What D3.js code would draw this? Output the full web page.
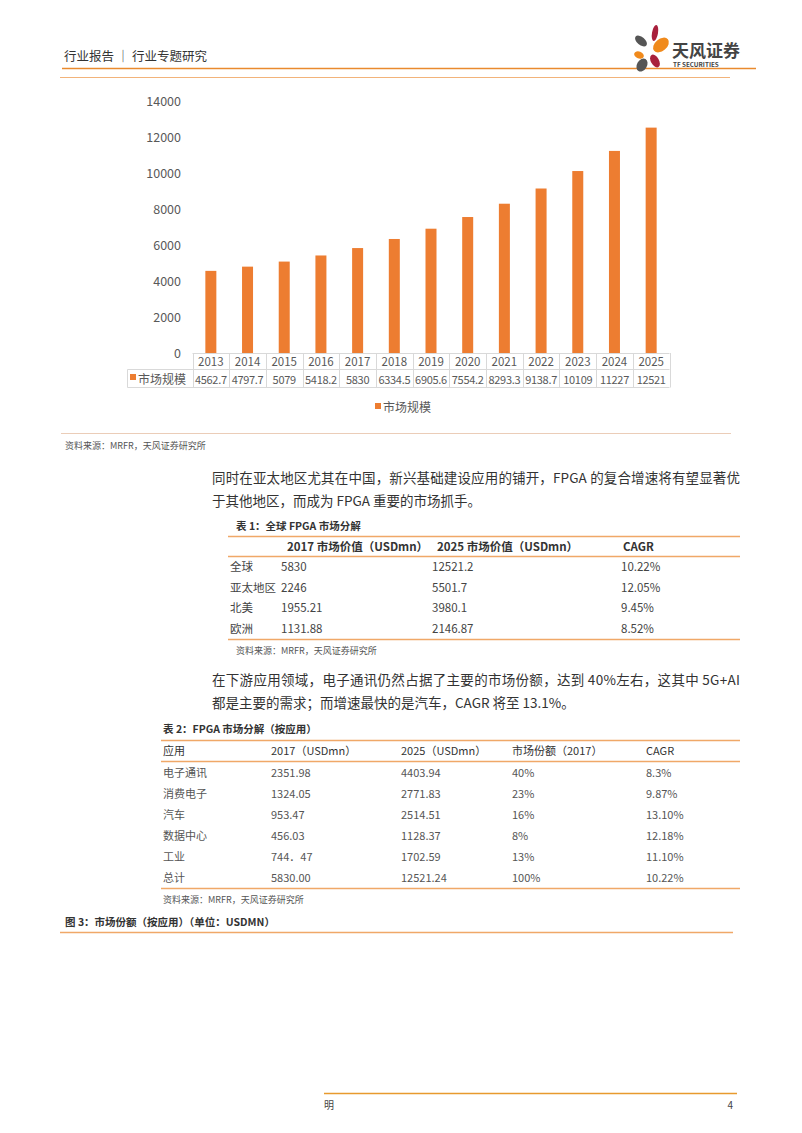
<!DOCTYPE html>
<html><head><meta charset="utf-8">
<script src="https://cdn.jsdelivr.net/npm/d3@7"></script>
<style>
html,body{margin:0;padding:0;background:#fff;}
svg{display:block;font-family:"Noto Sans CJK SC","Noto Sans",sans-serif;}
</style></head>
<body>
<script>
// ---------- data ----------
const years = ["2013","2014","2015","2016","2017","2018","2019","2020","2021","2022","2023","2024","2025"];
const marketSize = [4562.7,4797.7,5079,5418.2,5830,6334.5,6905.6,7554.2,8293.3,9138.7,10109,11227,12521];
const yTicks = [0,2000,4000,6000,8000,10000,12000,14000];
const seriesName = "市场规模";

const t1Title = "表 1：全球 FPGA 市场分解";
const t1Header = ["", "2017 市场价值（USDmn）", "2025 市场价值（USDmn）", "CAGR"];
const t1Rows = [
  ["全球","5830","12521.2","10.22%"],
  ["亚太地区","2246","5501.7","12.05%"],
  ["北美","1955.21","3980.1","9.45%"],
  ["欧洲","1131.88","2146.87","8.52%"]
];
const t2Title = "表 2：FPGA 市场分解（按应用）";
const t2Header = ["应用","2017（USDmn）","2025（USDmn）","市场份额（2017）","CAGR"];
const t2Rows = [
  ["电子通讯","2351.98","4403.94","40%","8.3%"],
  ["消费电子","1324.05","2771.83","23%","9.87%"],
  ["汽车","953.47","2514.51","16%","13.10%"],
  ["数据中心","456.03","1128.37","8%","12.18%"],
  ["工业","744．47","1702.59","13%","11.10%"],
  ["总计","5830.00","12521.24","100%","10.22%"]
];
const sourceText = "资料来源：MRFR，天风证券研究所";
const para1 = ["同时在亚太地区尤其在中国，新兴基础建设应用的铺开，FPGA 的复合增速将有望显著优","于其他地区，而成为 FPGA 重要的市场抓手。"];
const para2 = ["在下游应用领域，电子通讯仍然占据了主要的市场份额，达到 40%左右，这其中 5G+AI","都是主要的需求；而增速最快的是汽车，CAGR 将至 13.1%。"];
const fig3Title = "图 3：市场份额（按应用）（单位：USDMN）";

// ---------- page ----------
const W = 802, H = 1133;
const svg = d3.select("body").append("svg").attr("width", W).attr("height", H);
const ORANGE = "#ED7D31", LINE_OR = "#F0A868", PEACH = "#EBCDB8";

// header
svg.append("text").attr("x",64).attr("y",61).attr("font-size",12.5).attr("fill","#333")
  .text("行业报告 ｜ 行业专题研究");
svg.append("line").attr("x1",62).attr("x2",756).attr("y1",68.5).attr("y2",68.5).attr("stroke","#E98A2E").attr("stroke-width",1.6);
svg.append("line").attr("x1",60).attr("x2",730).attr("y1",77.5).attr("y2",77.5).attr("stroke","#F2B37A").attr("stroke-width",1);

// logo
const logo = svg.append("g");
const petals = [
  {cx:655,cy:33,rx:3,ry:8,rot:10,c:"#A8203C"},
  {cx:641,cy:41,rx:4,ry:7,rot:-50,c:"#555"},
  {cx:661,cy:45,rx:6,ry:9,rot:50,c:"#F08A1C"},
  {cx:639,cy:55,rx:3.5,ry:5,rot:-70,c:"#F08A1C"},
  {cx:655,cy:61,rx:4,ry:7,rot:-30,c:"#A8203C"},
  {cx:642,cy:65,rx:5,ry:7,rot:30,c:"#555"}
];
logo.selectAll("ellipse").data(petals).join("ellipse")
  .attr("cx",d=>d.cx).attr("cy",d=>d.cy).attr("rx",d=>d.rx).attr("ry",d=>d.ry)
  .attr("transform",d=>`rotate(${d.rot},${d.cx},${d.cy})`).attr("fill",d=>d.c);
logo.append("text").attr("x",672).attr("y",57).attr("font-size",17).attr("font-weight","bold").attr("fill","#444").text("天风证券");
logo.append("text").attr("x",673).attr("y",67).attr("font-size",6.3).attr("font-weight","bold").attr("fill","#444").text("TF SECURITIES");

// ---------- chart ----------
const x = d3.scaleBand().domain(years).range([192.5, 669.5]);
const y = d3.scaleLinear().domain([0,14000]).range([353,101]);
const GRID = "#D9D9D9", TXT = "#595959";

const yAxis = svg.append("g").attr("transform","translate(192,0)")
  .call(d3.axisLeft(y).tickValues(yTicks).tickSize(0).tickPadding(11).tickFormat(d3.format("d")));
yAxis.select(".domain").remove();
yAxis.selectAll("text").attr("font-size",12.5).attr("fill",TXT).attr("font-family","'Noto Sans CJK SC',sans-serif").attr("dy","0.35em");

const bw = 11;
svg.append("g").selectAll("rect").data(marketSize).join("rect")
  .attr("x",(d,i)=>x(years[i]) + x.bandwidth()/2 - bw/2)
  .attr("y",d=>y(d)).attr("width",bw).attr("height",d=>y(0)-y(d)).attr("fill",ORANGE);

// data table under the axis
const rowTop = 353, row1 = 369.5, row2 = 387.5, leftX = 127.5;
const tbl = svg.append("g").attr("stroke",GRID).attr("stroke-width",1);
tbl.append("line").attr("x1",x.range()[0]).attr("x2",x.range()[1]).attr("y1",rowTop+0.5).attr("y2",rowTop+0.5);
tbl.append("line").attr("x1",leftX).attr("x2",x.range()[1]).attr("y1",row1).attr("y2",row1);
tbl.append("line").attr("x1",leftX).attr("x2",x.range()[1]).attr("y1",row2).attr("y2",row2);
tbl.append("line").attr("x1",leftX).attr("x2",leftX).attr("y1",row1).attr("y2",row2);
const edges = years.map(d=>x(d)).concat([x.range()[1]]);
tbl.selectAll("line.v").data(edges).join("line").attr("class","v")
  .attr("x1",d=>Math.round(d)+0.5).attr("x2",d=>Math.round(d)+0.5).attr("y1",rowTop).attr("y2",row2);

svg.append("g").selectAll("text").data(years).join("text")
  .attr("x",d=>x(d)+x.bandwidth()/2).attr("y",366).attr("text-anchor","middle")
  .attr("font-size",11.5).attr("fill",TXT).text(d=>d);
svg.append("g").selectAll("text").data(marketSize).join("text")
  .attr("x",(d,i)=>x(years[i])+x.bandwidth()/2).attr("y",384).attr("text-anchor","middle")
  .attr("font-size",11).attr("letter-spacing",-0.3).attr("fill",TXT).text(d=>d);
svg.append("rect").attr("x",130).attr("y",374).attr("width",6).attr("height",6).attr("fill",ORANGE);
svg.append("text").attr("x",138).attr("y",384).attr("font-size",12).attr("fill",TXT).text(seriesName);

// legend
svg.append("rect").attr("x",375).attr("y",403).attr("width",6).attr("height",6).attr("fill",ORANGE);
svg.append("text").attr("x",383).attr("y",412).attr("font-size",12).attr("fill",TXT).text(seriesName);

// source line
svg.append("line").attr("x1",61).attr("x2",731).attr("y1",433.5).attr("y2",433.5).attr("stroke",PEACH).attr("stroke-width",1);
svg.append("text").attr("x",65).attr("y",449).attr("font-size",9).attr("fill","#555").text(sourceText);

// ---------- paragraphs ----------
function para(lines, y0, widthFirst){
  lines.forEach((t,i)=>{
    const tx = svg.append("text").attr("x",212).attr("y",y0 + i*22.5).attr("font-size",13.5).attr("fill","#333").text(t);
    if(i===0) tx.attr("textLength",widthFirst).attr("lengthAdjust","spacing");
  });
}
para(para1, 483, 528);
para(para2, 685, 528);

// ---------- table 1 ----------
svg.append("text").attr("x",236).attr("y",530).attr("font-size",10.5).attr("font-weight","bold").attr("fill","#333").text(t1Title);
const t1x = [230, 281, 432, 621];
[536.5, 556.5, 639.5].forEach(yy=>svg.append("line").attr("x1",228).attr("x2",740).attr("y1",yy).attr("y2",yy).attr("stroke",LINE_OR).attr("stroke-width",1.5));
svg.append("g").selectAll("text").data(t1Header).join("text")
  .attr("x",(d,i)=>t1x[i]+ (i===1?6:i===2?5:i===3?2:0)).attr("y",551).attr("font-size",11.5).attr("font-weight","bold").attr("fill","#333").text(d=>d);
t1Rows.forEach((r,ri)=>{
  svg.append("g").selectAll("text").data(r).join("text")
    .attr("x",(d,i)=>t1x[i]).attr("y",571 + ri*20.7).attr("font-size",11.5).attr("fill","#444").text(d=>d);
});
svg.append("text").attr("x",236).attr("y",654).attr("font-size",9).attr("fill","#555").text(sourceText);

// ---------- table 2 ----------
svg.append("text").attr("x",163).attr("y",733).attr("font-size",10.5).attr("font-weight","bold").attr("fill","#333").text(t2Title);
const t2x = [163, 271, 401, 512, 646];
[740.5, 761.5, 888.5].forEach(yy=>svg.append("line").attr("x1",161).attr("x2",740).attr("y1",yy).attr("y2",yy).attr("stroke",LINE_OR).attr("stroke-width",1.5));
svg.append("g").selectAll("text").data(t2Header).join("text")
  .attr("x",(d,i)=>t2x[i]).attr("y",755).attr("font-size",11).attr("fill","#333").text(d=>d);
t2Rows.forEach((r,ri)=>{
  svg.append("g").selectAll("text").data(r).join("text")
    .attr("x",(d,i)=>t2x[i]).attr("y",777 + ri*21).attr("font-size",11).attr("fill","#555").text(d=>d);
});
svg.append("text").attr("x",163).attr("y",903).attr("font-size",9).attr("fill","#555").text(sourceText);

// figure 3 title
svg.append("text").attr("x",65).attr("y",926).attr("font-size",10.5).attr("font-weight","bold").attr("fill","#333").text(fig3Title);
svg.append("line").attr("x1",60).attr("x2",733).attr("y1",932.5).attr("y2",932.5).attr("stroke","#F0A868").attr("stroke-width",1.3);

// footer
svg.append("line").attr("x1",324).attr("x2",737).attr("y1",1093.5).attr("y2",1093.5).attr("stroke","#E89A2E").attr("stroke-width",1.6);
svg.append("text").attr("x",324).attr("y",1109).attr("font-size",10).attr("fill","#444").text("明");
svg.append("text").attr("x",733).attr("y",1109).attr("text-anchor","end").attr("font-size",10).attr("fill","#444").text("4");
</script>
</body></html>
